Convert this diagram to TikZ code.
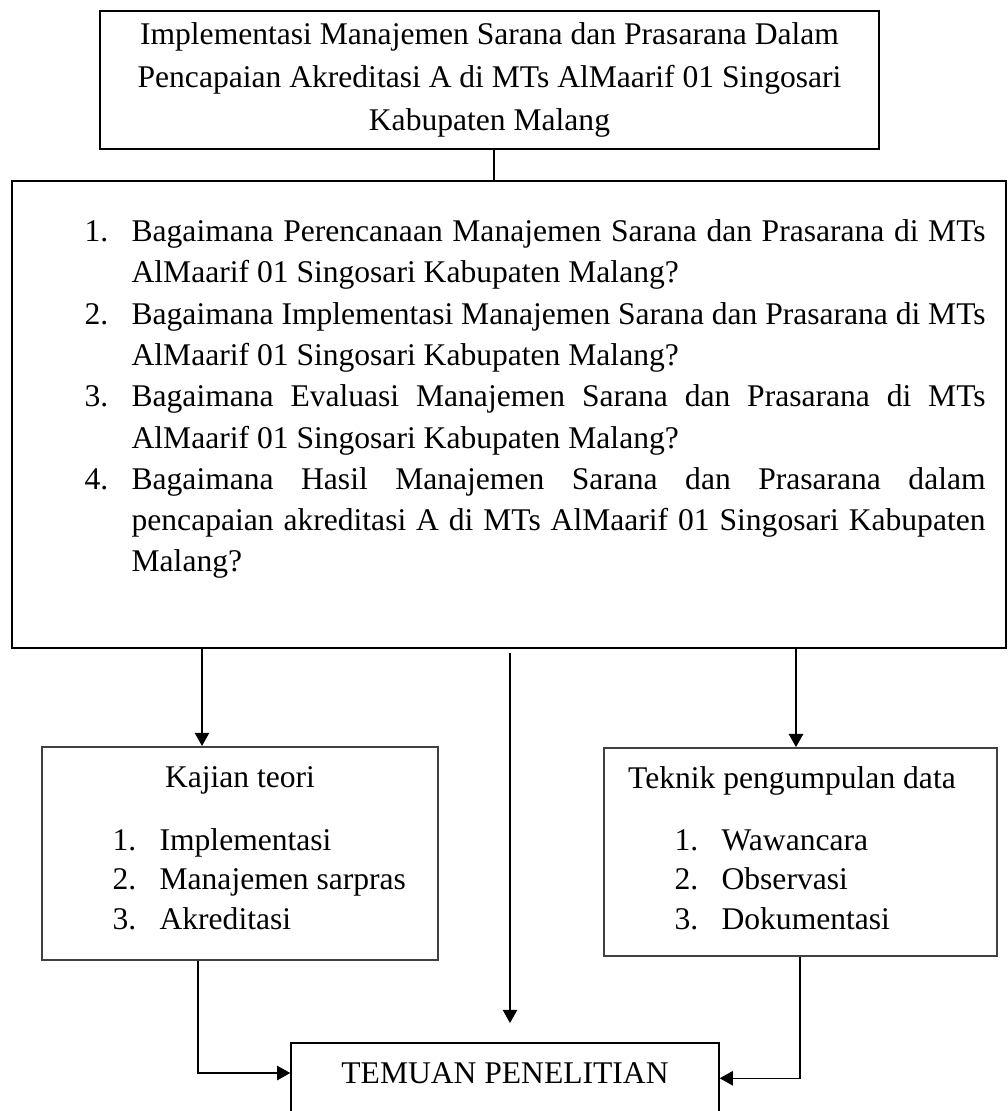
\documentclass[tikz,border=0pt]{standalone}
\usepackage{fontspec}
\setmainfont{Liberation Serif}
\usetikzlibrary{positioning,arrows.meta}
\tikzset{
    flowtitle/.style={draw, line width=1pt, align=center, minimum width=296pt, minimum height=52.4pt, inner sep=0pt, font=\fontsize{12}{16.5}\selectfont},
    flowproblem/.style={draw, line width=0.75pt, minimum width=377.7pt, minimum height=177.5pt, inner sep=0pt},
    flowlist/.style={align=justify, text width=342.4pt, inner sep=0pt, font=\fontsize{12}{15.7}\selectfont},
    flowside/.style={draw=black!75, line width=0.75pt, minimum width=150.5pt, minimum height=81pt, inner sep=0pt},
    flowsidelist/.style={align=left, inner sep=0pt, font=\fontsize{12}{15}\selectfont},
    flowfinding/.style={draw, line width=0.6pt, minimum width=162.6pt, minimum height=45.6pt, inner sep=0pt},
    flowarrow/.style={draw, line width=0.45pt, -{Triangle[length=5pt, width=5.5pt]}},
    flowline/.style={draw, line width=0.45pt}
}
\newcommand\qnum[1]{\makebox[17.9pt][l]{#1}}
\newcommand\qitem[2]{\hangindent=17.9pt\hangafter=1\noindent\qnum{#1}#2\par}

\begin{document}
\begin{tikzpicture}[x=0.38pt, y=-0.38pt, font=\fontsize{12}{15}\selectfont]
    \useasboundingbox (0,0) rectangle (1008,1111);
    \node[flowtitle] (title) at (489.5,80) {Implementasi Manajemen Sarana dan Prasarana Dalam\\Pencapaian Akreditasi A di MTs AlMaarif 01 Singosari\\Kabupaten Malang};
    \node[flowproblem] (problem) at (509,414.5) {};
    \node[flowlist, anchor=north west] (questions) at (84,219) {%
        \qitem{1.}{Bagaimana Perencanaan Manajemen Sarana dan Prasarana di MTs\linebreak AlMaarif 01 Singosari Kabupaten Malang?}
        \qitem{2.}{Bagaimana Implementasi Manajemen Sarana dan Prasarana di MTs\linebreak AlMaarif 01 Singosari Kabupaten Malang?}
        \qitem{3.}{Bagaimana Evaluasi Manajemen Sarana dan Prasarana di MTs\linebreak AlMaarif 01 Singosari Kabupaten Malang?}
        \qitem{4.}{Bagaimana Hasil Manajemen Sarana dan Prasarana dalam\linebreak pencapaian akreditasi A di MTs AlMaarif 01 Singosari Kabupaten\linebreak Malang?}};

    \node[flowside] (theory) at (240,853.5) {};
    \node[anchor=base] (theoryhead) at (240,787) {Kajian teori};
    \node[flowsidelist, anchor=north west] (theorylist) at (112,828) {\qnum{1.}Implementasi\\\qnum{2.}Manajemen sarpras\\\qnum{3.}Akreditasi};

    \node[flowside, minimum width=149.3pt, minimum height=79pt] (method) at (800.5,852) {};
    \node[anchor=base] (methodhead) at (792,788) {Teknik pengumpulan data};
    \node[flowsidelist, anchor=north west] (methodlist) at (674,829) {\qnum{1.}Wawancara\\\qnum{2.}Observasi\\\qnum{3.}Dokumentasi};

    \node[flowfinding, anchor=north] (finding) at (505,1042) {};
    \node (findingtext) at (505,1073) {TEMUAN PENELITIAN};
    \coordinate (midend) at (510,1023);

    \draw[flowline] (title.south -| 494,0) -- (problem.north -| 494,0);
    \draw[flowarrow] (problem.south -| 202,0) -- (theory.north -| 202,0);
    \draw[flowarrow] (problem.south -| 796,0) -- (method.north -| 796,0);
    \draw[flowarrow, shorten <=1.5pt] (problem.south -| midend) -- (midend);
    \draw[flowarrow] (theory.south -| 198,0) |- (finding.west |- findingtext);
    \draw[flowarrow] (method.south -| 800,0) |- ([yshift=-2pt]finding.east |- findingtext);
\end{tikzpicture}
\end{document}
